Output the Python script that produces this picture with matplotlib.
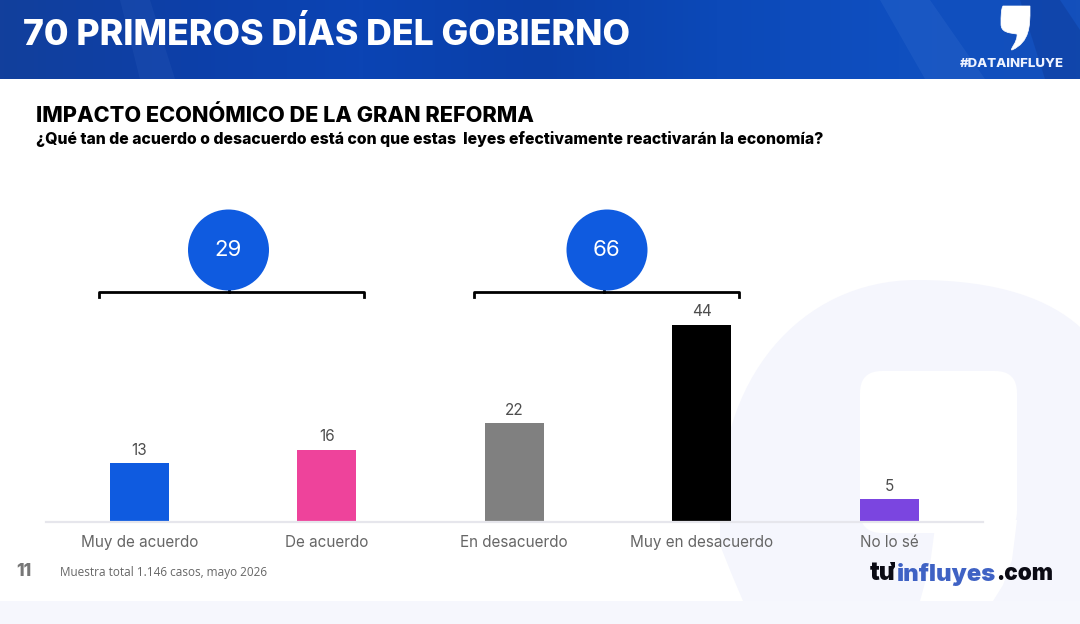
# Slide: impacto economico de la gran reforma

import matplotlib
matplotlib.use("Agg")
import matplotlib.pyplot as plt
from matplotlib.colors import LinearSegmentedColormap
from matplotlib.patches import Circle, FancyBboxPatch, PathPatch, Polygon
from matplotlib.path import Path
import numpy as np

categories = ["Muy de acuerdo", "De acuerdo", "En desacuerdo", "Muy en desacuerdo", "No lo sé"]
values = [13, 16, 22, 44, 5]
bar_colors = ["#0f5be0", "#ee439b", "#808080", "#000000", "#7b45e0"]
group_totals = [29, 66]
header_stops = ["#123f9c", "#0d3fa8", "#0b44b4", "#0a3fa8", "#0c49b8", "#0f4fc0", "#1450bb"]

LIGHT = "#f5f6fd"
BLUE = "#0f5be0"
FONT = "Inter"

plt.rcParams["font.family"] = FONT

fig = plt.figure(figsize=(10.8, 6.24), dpi=100, facecolor="white")

# pixel canvas for everything that is not the bars
bg = fig.add_axes([0, 0, 1, 1], zorder=0)
bg.set_xlim(0, 1080)
bg.set_ylim(624, 0)
bg.axis("off")

# watermark quote shape
verts = [(743, 601), (732, 575), (720, 545), (720, 520),
         (715, 380), (800, 280), (917, 280),
         (1000, 280), (1050, 300), (1080, 327),
         (1080, 601), (743, 601)]
codes = [Path.MOVETO, Path.LINETO, Path.LINETO, Path.LINETO,
         Path.CURVE4, Path.CURVE4, Path.CURVE4,
         Path.CURVE4, Path.CURVE4, Path.CURVE4,
         Path.LINETO, Path.CLOSEPOLY]
bg.add_patch(PathPatch(Path(verts, codes), facecolor=LIGHT, edgecolor="none"))
bg.add_patch(FancyBboxPatch((860, 371), 157, 162, boxstyle="round,pad=0,rounding_size=22",
                            facecolor="white", edgecolor="none"))
bg.add_patch(Polygon([(936, 520), (1017, 520), (1012, 560), (1003, 585), (993, 601), (920, 601), (930, 565)],
                     facecolor="white", edgecolor="none"))
bg.add_patch(Polygon([(0, 601), (1080, 601), (1080, 624), (0, 624)], facecolor="#f6f7fd", edgecolor="none"))

# header band
cmap = LinearSegmentedColormap.from_list("header", header_stops)
bg.imshow(np.linspace(0, 1, 256).reshape(1, -1), cmap=cmap, aspect="auto",
          extent=(0, 1080, 79, 0), zorder=1)
bg.set_xlim(0, 1080)
bg.set_ylim(624, 0)
bg.add_patch(Polygon([(120, 0), (150, 0), (175, 79), (140, 79)], facecolor="#4f7fd0", alpha=0.12, edgecolor="none", zorder=1.1))
bg.add_patch(Polygon([(880, 0), (930, 0), (985, 79), (925, 79)], facecolor="#5b8ee0", alpha=0.14, edgecolor="none", zorder=1.1))
bg.add_patch(Polygon([(1020, 0), (1060, 0), (1080, 30), (1080, 79), (1045, 79)], facecolor="#0a2f88", alpha=0.3, edgecolor="none", zorder=1.1))

bg.text(23, 34.5, "70 PRIMEROS DÍAS DEL GOBIERNO", color="white", fontsize=25.7, fontweight=800,
        va="center", ha="left", zorder=3)

# header quote mark
quote_verts = [(1003, 6), (1030, 6), (1030, 8), (1030, 10),
               (1030, 25), (1030, 42), (1012, 50),
               (1009, 50), (1018, 42), (1017, 34),
               (1008, 33), (1001, 32), (1001, 24),
               (1001, 16), (1001, 9), (1003, 6), (1003, 6)]
quote_codes = [Path.MOVETO, Path.LINETO, Path.LINETO, Path.LINETO,
               Path.CURVE4, Path.CURVE4, Path.CURVE4,
               Path.CURVE4, Path.CURVE4, Path.CURVE4,
               Path.CURVE4, Path.CURVE4, Path.CURVE4,
               Path.CURVE4, Path.CURVE4, Path.CURVE4, Path.CLOSEPOLY]
bg.add_patch(PathPatch(Path(quote_verts, quote_codes), facecolor="white", edgecolor="white", linewidth=0.5, zorder=3))
bg.text(1012, 64, "#DATAINFLUYE", color="#eef3ff", fontsize=9.5, fontweight=800, ha="center", va="center", zorder=3)

bg.text(36, 115.5, "IMPACTO ECONÓMICO DE LA GRAN REFORMA", color="black", fontsize=15.6, fontweight=800, va="center")
bg.text(36, 139, "¿Qué tan de acuerdo o desacuerdo está con que estas  leyes efectivamente reactivarán la economía?",
        color="black", fontsize=11.4, fontweight=800, va="center")

# group circles and brackets
for total, cx, left, right, stem in zip(group_totals, [228.5, 607], [99, 474], [364, 739], [229, 604]):
    bg.add_patch(Circle((cx, 250), 40.5, facecolor=BLUE, edgecolor="none", zorder=3))
    bg.text(cx, 250, str(total), color="white", fontsize=16, ha="center", va="center", zorder=4)
    bg.plot([left, left, right, right], [297, 292, 292, 297], color="black", lw=2, solid_joinstyle="round", zorder=2)
    bg.plot([stem, stem], [287, 292], color="black", lw=2, zorder=2)

# footer
bg.text(16, 572, "11", color="#777777", fontsize=12.5, fontweight=800, va="center")
bg.text(60, 572.5, "Muestra total 1.146 casos, mayo 2026", color="#666666", fontsize=8.5, va="center", family="Open Sans")
logo_y = 574
bg.text(870, logo_y, "tu", color="#0b0b14", fontsize=17.5, fontweight=900, va="center")
bg.add_patch(Polygon([(890, 562), (895, 562), (895, 567), (891, 572), (890, 571), (892, 567)],
                     facecolor="#0b0b14", edgecolor="none", zorder=3))
bg.text(897, logo_y, "influyes", color="#3f62c4", fontsize=17.2, fontweight=900, va="center")
bg.text(996, logo_y, ".com", color="#0b0b14", fontsize=16.2, fontweight=900, va="center")

# bars on their own axes, baseline at y=521 px
ax = fig.add_axes([45.5 / 1080, (624 - 521.5) / 624, 937.5 / 1080, 221 / 624], zorder=1)
ax.patch.set_alpha(0)
bars = ax.bar(categories, values, width=0.3147, color=bar_colors)
ax.bar_label(bars, padding=4, color="#4d4d4d", fontsize=11)
ax.set_xlim(-0.5, 4.5)
ax.set_ylim(0, 49.4)
ax.yaxis.set_visible(False)
for side in ["top", "left", "right"]:
    ax.spines[side].set_visible(False)
ax.spines["bottom"].set_color("#e6e6ec")
ax.spines["bottom"].set_linewidth(1.6)
ax.tick_params(axis="x", length=0, pad=10, labelsize=11, labelcolor="#666666")

fig.savefig("out.png", dpi=100)
